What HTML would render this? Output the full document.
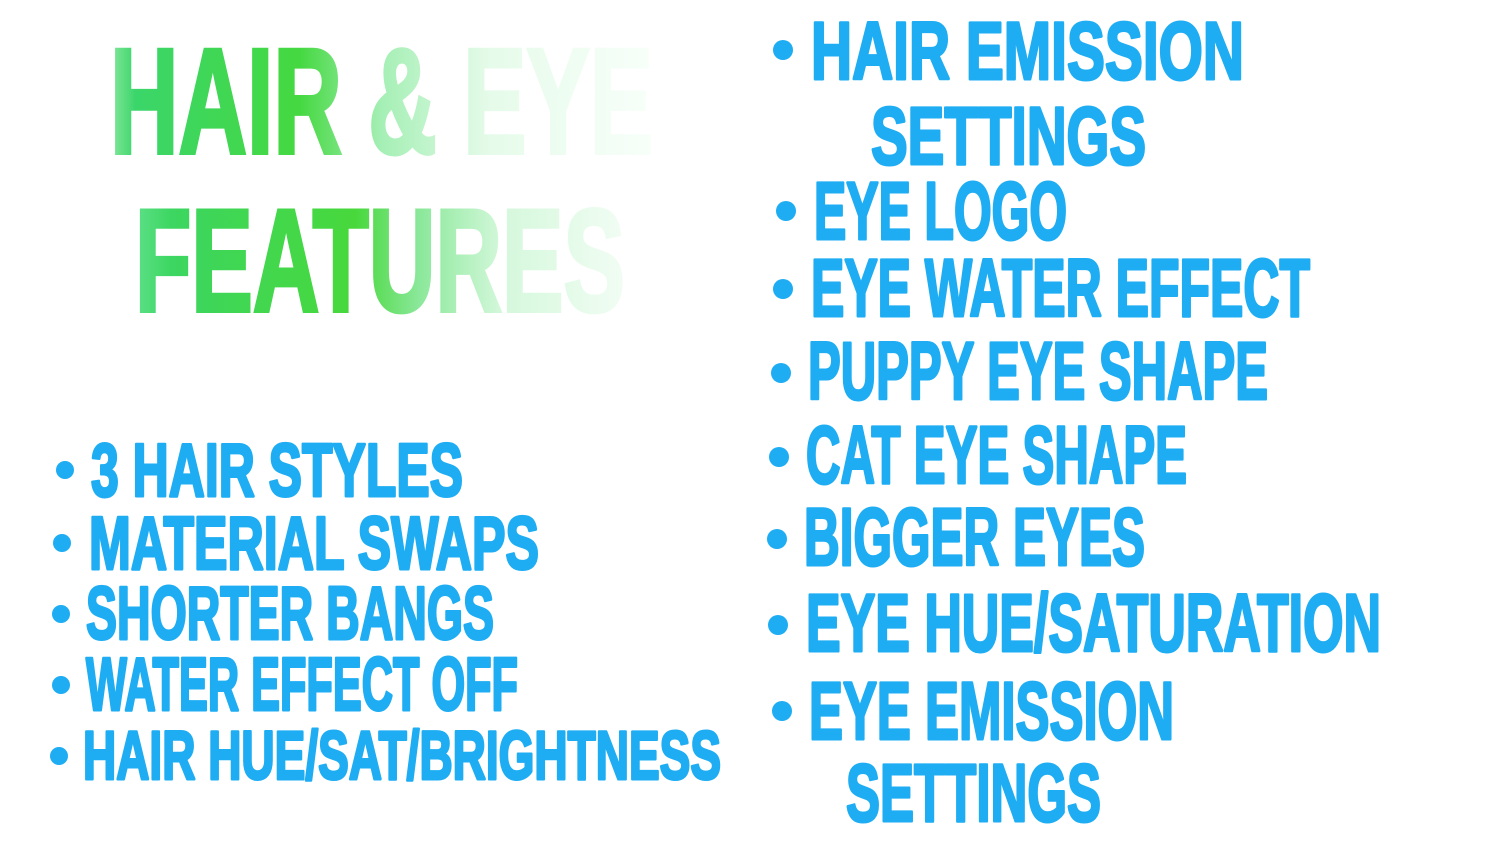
<!DOCTYPE html>
<html><head><meta charset="utf-8"><style>
html,body{margin:0;padding:0;background:#fff;width:1500px;height:843px;overflow:hidden}
svg{display:block}
text{font-family:"Liberation Sans Narrow","Liberation Sans",sans-serif;font-weight:bold}
.b{fill:#1eadf3}
.b text{stroke:#1eadf3;stroke-width:3;stroke-linejoin:round}
</style></head><body>
<svg width="1500" height="843" viewBox="0 0 1500 843" xmlns="http://www.w3.org/2000/svg">
<defs>
<linearGradient id="g1" gradientUnits="userSpaceOnUse" x1="108" y1="0" x2="655" y2="0">
<stop offset="0" stop-color="#8ee8a0"/><stop offset="0.05" stop-color="#3bd66a"/>
<stop offset="0.35" stop-color="#45d840"/><stop offset="0.5" stop-color="#a5efb5"/>
<stop offset="0.7" stop-color="#e6fbea"/><stop offset="1" stop-color="#f8fffa"/>
</linearGradient>
<linearGradient id="g2" gradientUnits="userSpaceOnUse" x1="133" y1="0" x2="627" y2="0">
<stop offset="0" stop-color="#5ee08a"/><stop offset="0.08" stop-color="#3cd660"/>
<stop offset="0.45" stop-color="#48d83c"/><stop offset="0.58" stop-color="#8be89a"/>
<stop offset="0.75" stop-color="#d5f8dc"/><stop offset="1" stop-color="#f2fdf4"/>
</linearGradient>
</defs>
<text x="110" y="153" font-size="150" textLength="543" lengthAdjust="spacingAndGlyphs" fill="url(#g1)" stroke="url(#g1)" stroke-width="4">HAIR &amp; EYE</text>
<text x="135" y="311" font-size="146" textLength="490" lengthAdjust="spacingAndGlyphs" fill="url(#g2)" stroke="url(#g2)" stroke-width="4">FEATURES</text>

<g class="b">
<circle cx="783" cy="50" r="10"/><circle cx="786" cy="211" r="10"/><circle cx="783" cy="289" r="10"/>
<circle cx="781" cy="373" r="10"/><circle cx="779" cy="457" r="10"/><circle cx="777" cy="539" r="10"/>
<circle cx="778" cy="625" r="10"/><circle cx="782" cy="711" r="10"/>
<circle cx="65" cy="470" r="9"/><circle cx="62" cy="543" r="9"/><circle cx="61" cy="614" r="9"/>
<circle cx="61" cy="685" r="9"/><circle cx="59" cy="756" r="9"/>
</g>
<g class="b">
<text x="811" y="79" font-size="82" textLength="433" lengthAdjust="spacingAndGlyphs">HAIR EMISSION</text>
<text x="871" y="164" font-size="82" textLength="275" lengthAdjust="spacingAndGlyphs">SETTINGS</text>
<text x="814" y="239" font-size="82" textLength="253" lengthAdjust="spacingAndGlyphs">EYE LOGO</text>
<text x="811" y="316" font-size="82" textLength="499" lengthAdjust="spacingAndGlyphs">EYE WATER EFFECT</text>
<text x="808" y="399" font-size="82" textLength="460" lengthAdjust="spacingAndGlyphs">PUPPY EYE SHAPE</text>
<text x="806" y="483" font-size="82" textLength="381" lengthAdjust="spacingAndGlyphs">CAT EYE SHAPE</text>
<text x="804" y="565" font-size="82" textLength="341" lengthAdjust="spacingAndGlyphs">BIGGER EYES</text>
<text x="806" y="651" font-size="82" textLength="575" lengthAdjust="spacingAndGlyphs">EYE HUE/SATURATION</text>
<text x="809" y="739" font-size="82" textLength="365" lengthAdjust="spacingAndGlyphs">EYE EMISSION</text>
<text x="846" y="821" font-size="82" textLength="255" lengthAdjust="spacingAndGlyphs">SETTINGS</text>
<text x="91" y="496" font-size="75" textLength="372" lengthAdjust="spacingAndGlyphs">3 HAIR STYLES</text>
<text x="89" y="569" font-size="75" textLength="450" lengthAdjust="spacingAndGlyphs">MATERIAL SWAPS</text>
<text x="86" y="639" font-size="75" textLength="408" lengthAdjust="spacingAndGlyphs">SHORTER BANGS</text>
<text x="86" y="710" font-size="75" textLength="432" lengthAdjust="spacingAndGlyphs">WATER EFFECT OFF</text>
<text x="83" y="779" font-size="69" textLength="638" lengthAdjust="spacingAndGlyphs">HAIR HUE/SAT/BRIGHTNESS</text>
</g>
</svg>
</body></html>
